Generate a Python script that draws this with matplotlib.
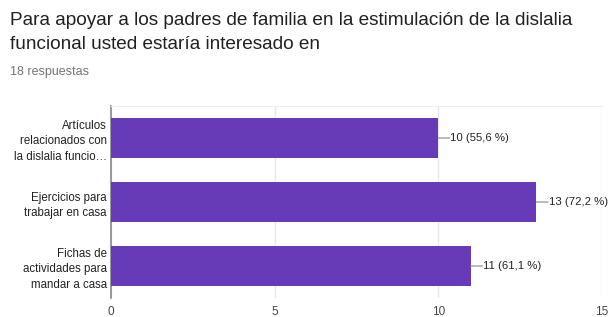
import matplotlib.pyplot as plt

# ---------------- DATA ----------------
categories = [
    "Artículos\nrelacionados con\nla dislalia funcio…",
    "Ejercicios para\ntrabajar en casa",
    "Fichas de\nactividades para\nmandar a casa",
]
counts = [10, 13, 11]
percents = ["55,6", "72,2", "61,1"]
xticks = [0, 5, 10, 15]

title = "Para apoyar a los padres de familia en la estimulación de la dislalia\nfuncional usted estaría interesado en"
subtitle = "18 respuestas"

plt.rcParams['font.family'] = ['Liberation Sans', 'DejaVu Sans']

fig = plt.figure(figsize=(6.08, 3.17), dpi=100)
ax = fig.add_axes([0.1826, 0.0599, 0.8074, 0.6057])

ypos = list(range(len(categories)))
ax.barh(ypos, counts, height=0.61, color='#673ab7', zorder=3)

# value labels with short leader lines
for y, c, p in zip(ypos, counts, percents):
    ax.annotate("", xy=(c, y), xytext=(c + 0.35, y),
                arrowprops=dict(arrowstyle='-', color='#9e9e9e', lw=1,
                                shrinkA=0, shrinkB=0))
    ax.text(c + 0.37, y, f"{c} ({p} %)", va='center', ha='left',
            fontsize=8.2, color='#222222')

ax.set_xlim(0, 15)
ax.set_ylim(len(categories) - 0.5, -0.5)
ax.set_yticks(ypos)
ax.set_yticklabels(categories, fontsize=8.3, color='#222222', linespacing=1.4)
ax.set_xticks(xticks)
ax.set_xticklabels([str(t) for t in xticks], fontsize=8.5, color='#444444')
ax.tick_params(axis='both', length=0, pad=3)
ax.tick_params(axis='x', pad=6)

ax.grid(axis='x', color='#e8e8e8', lw=1, zorder=0)
for s in ['right', 'bottom']:
    ax.spines[s].set_visible(False)
ax.spines['top'].set_color('#eeeeee')
ax.spines['left'].set_color('#888888')
ax.spines['left'].set_linewidth(1.2)

fig.text(0.0165, 0.962, title, fontsize=13.7, color='#212121', va='top',
         ha='left', linespacing=1.55)
fig.text(0.0165, 0.793, subtitle, fontsize=9, color='#757575', va='top',
         ha='left')

fig.savefig("out.png", dpi=100)
